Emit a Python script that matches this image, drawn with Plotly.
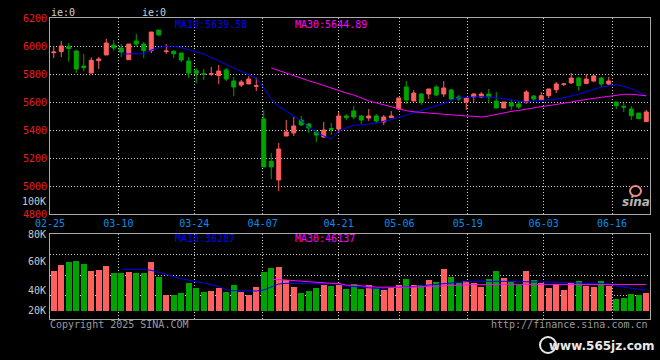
import plotly.graph_objects as go

# ---------------- data ----------------
dates = ["02-25", "02-26", "02-27", "02-28",
         "03-03", "03-04", "03-05", "03-06", "03-07", "03-10", "03-11", "03-12", "03-13", "03-14",
         "03-17", "03-18", "03-19", "03-20", "03-21", "03-24", "03-25", "03-26", "03-27", "03-28", "03-31",
         "04-01", "04-02", "04-03", "04-07", "04-08", "04-09", "04-10", "04-11", "04-14", "04-15", "04-16",
         "04-17", "04-18", "04-21", "04-22", "04-23", "04-24", "04-25", "04-28", "04-29", "04-30",
         "05-06", "05-07", "05-08", "05-09", "05-12", "05-13", "05-14", "05-15", "05-16", "05-19", "05-20",
         "05-21", "05-22", "05-23", "05-26", "05-27", "05-28", "05-29", "05-30",
         "06-03", "06-04", "06-05", "06-06", "06-09", "06-10", "06-11", "06-12", "06-13", "06-16", "06-17",
         "06-18", "06-19", "06-20", "06-23"]

opens = [5952, 5960, 5995, 5964, 5857, 5807, 5895, 5936, 6007, 5986,
         5902, 6036, 6014, 5967, 6114, 5960, 5962, 5950, 5893, 5824,
         5802, 5798, 5790, 5829, 5750, 5721, 5729, 5712, 5479, 5176,
         5043, 5357, 5379, 5471, 5443, 5386, 5350, 5410, 5407, 5500,
         5536, 5500, 5486, 5500, 5457, 5488, 5550, 5707, 5607, 5657,
         5657, 5707, 5657, 5686, 5636, 5600, 5636, 5636, 5657, 5607,
         5557, 5593, 5586, 5600, 5643, 5617, 5645, 5688, 5726, 5736,
         5771, 5733, 5750, 5771, 5729, 5600, 5569, 5550, 5521, 5460]
highs = [6000, 6036, 6021, 5971, 5943, 5919, 5921, 6050, 6043, 6014,
         6014, 6086, 6029, 6100, 6114, 6014, 5971, 5950, 5921, 5843,
         5836, 5850, 5864, 5843, 5779, 5757, 5786, 5774, 5543, 5236,
         5307, 5471, 5493, 5500, 5450, 5400, 5457, 5450, 5529, 5514,
         5571, 5505, 5550, 5514, 5507, 5536, 5629, 5750, 5686, 5664,
         5693, 5721, 5750, 5693, 5650, 5629, 5664, 5671, 5693, 5671,
         5600, 5614, 5607, 5686, 5650, 5671, 5693, 5743, 5736, 5807,
         5779, 5800, 5793, 5779, 5779, 5600, 5593, 5571, 5521, 5543]
lows = [5914, 5921, 5888, 5807, 5819, 5807, 5836, 5936, 5967, 5921,
        5902, 5995, 5914, 5950, 6071, 5943, 5914, 5886, 5771, 5736,
        5757, 5786, 5729, 5750, 5643, 5707, 5729, 5678, 5136, 5050,
        4964, 5357, 5357, 5429, 5379, 5314, 5343, 5364, 5379, 5471,
        5479, 5443, 5464, 5450, 5436, 5486, 5543, 5586, 5607, 5579,
        5621, 5643, 5636, 5614, 5607, 5543, 5600, 5629, 5590, 5557,
        5557, 5543, 5550, 5586, 5607, 5617, 5629, 5664, 5714, 5729,
        5681, 5729, 5743, 5707, 5721, 5550, 5529, 5471, 5481, 5460]
closes = [5957, 6000, 5981, 5836, 5845, 5898, 5907, 6021, 5986, 5957,
          6014, 6014, 5967, 6100, 6079, 5964, 5945, 5900, 5807, 5805,
          5798, 5802, 5821, 5764, 5707, 5743, 5764, 5716, 5136, 5136,
          5264, 5386, 5429, 5436, 5414, 5364, 5400, 5405, 5500, 5488,
          5493, 5471, 5500, 5464, 5493, 5500, 5629, 5614, 5664, 5600,
          5693, 5650, 5700, 5621, 5621, 5629, 5657, 5657, 5636, 5557,
          5600, 5571, 5564, 5671, 5621, 5645, 5693, 5729, 5729, 5771,
          5717, 5764, 5786, 5729, 5750, 5574, 5564, 5502, 5481, 5529]

# price moving averages (MA10 from day 10, MA30 from day 30)
ma10 = [5943, 5943, 5943, 5945, 5971, 5990, 5998, 5998, 5988, 5972,
        5960, 5943, 5917, 5895, 5867, 5843, 5819, 5792, 5769, 5700,
        5620, 5569, 5535, 5498, 5465, 5420, 5385, 5357, 5336, 5390,
        5415, 5433, 5436, 5443, 5450, 5460, 5475, 5490, 5507, 5525,
        5538, 5555, 5572, 5590, 5612, 5630, 5633, 5636, 5638, 5636,
        5630, 5624, 5617, 5606, 5600, 5607, 5613, 5615, 5619, 5629,
        5643, 5657, 5671, 5690, 5707, 5717, 5724, 5712, 5695, 5671, 5639.58]
ma30 = [5843, 5824, 5805, 5785, 5766, 5752, 5736, 5717, 5700, 5681,
        5664, 5650, 5630, 5608, 5594, 5580, 5565, 5550, 5538, 5530,
        5525, 5520, 5515, 5512, 5508, 5505, 5500, 5498, 5493, 5500,
        5512, 5524, 5533, 5540, 5550, 5560, 5567, 5574, 5581, 5590,
        5600, 5610, 5619, 5627, 5634, 5640, 5648, 5655, 5655, 5650, 5644.89]

# volume in thousands
volume_k = [69.6, 80.6, 85.2, 87.0, 82.3, 69.6, 71.3, 78.3, 66.7, 66.7,
            68.4, 66.7, 66.7, 85.2, 59.1, 27.8, 27.8, 31.9, 49.3, 40.0,
            33.0, 34.8, 40.6, 33.0, 45.2, 33.0, 27.8, 41.7, 67.8, 74.8,
            76.5, 54.5, 41.7, 31.9, 34.8, 40.6, 45.2, 43.5, 45.0, 37.7,
            47.0, 37.7, 44.6, 39.4, 36.5, 39.4, 44.6, 55.7, 44.6, 44.6,
            53.9, 49.9, 73.0, 59.1, 49.3, 52.2, 48.1, 42.3, 55.7, 69.6,
            57.4, 52.2, 45.2, 69.6, 53.9, 49.3, 40.6, 46.4, 36.5, 48.1,
            52.5, 43.5, 42.3, 52.5, 43.5, 21.4, 23.2, 30.1, 27.8, 31.9]
vol_ma10 = [72.5, 72.5, 72.5, 72.5, 70.7, 66.7, 63.2, 59.7, 56.2, 53.9,
            51.6, 49.3, 45.8, 42.3, 37.1, 35.4, 34.8, 34.8, 34.8, 36.5,
            41.2, 47.0, 48.1, 48.1, 48.1, 47.5, 47.5, 47.0, 47.0, 47.0,
            43.5, 42.3, 42.3, 41.2, 39.4, 39.4, 41.2, 41.2, 41.2, 42.3,
            44.0, 45.2, 47.0, 48.1, 49.3, 49.9, 51.0, 51.6, 51.6, 52.2,
            52.8, 52.8, 51.6, 51.0, 51.0, 51.0, 51.0, 49.9, 49.9, 49.9,
            49.3, 48.1, 48.1, 48.1, 48.1, 47.0, 43.5, 41.2, 39.4, 37.7, 36.287]
vol_ma30 = [55.1, 55.1, 53.9, 52.8, 51.6, 50.4, 49.9, 49.3, 48.1, 48.1,
            45.0, 44.6, 44.0, 43.0, 41.5, 41.0, 40.6, 41.2, 41.2, 41.7,
            43.0, 43.5, 44.0, 45.0, 45.2, 45.5, 45.8, 45.8, 45.8, 46.4,
            46.4, 46.4, 46.4, 46.4, 46.4, 46.4, 46.4, 46.4, 46.4, 46.4,
            46.4, 46.7, 46.7, 46.7, 46.7, 46.7, 46.7, 46.4, 46.4, 46.1, 46.137]

tick_dates = ["02-25", "03-10", "03-24", "04-07", "04-21", "05-06", "05-19", "06-03", "06-16"]
price_ticks = [6200, 6000, 5800, 5600, 5400, 5200, 5000, 4800]
vol_labels = ["100K", "80K", "60K", "40K", "20K"]

# ---------------- styling ----------------
RED = "#ff5f5f"
GREEN = "#00a400"
BLUE = "#0000ff"
MAGENTA = "#ff00ff"
FRAME = "#a8a8a8"
GRID = "#cfcfcf"
MONO = "DejaVu Sans Mono"

n = len(dates)
idx = list(range(n))
ma10_x = idx[n - len(ma10):]
ma30_x = idx[n - len(ma30):]
# Sina spaces the date grid over n-1 slots while candles use n slots
tick_pos = [dates.index(d) * n / (n - 1) - 0.5 for d in tick_dates]
bar_colors = [RED if c >= o else GREEN for o, c in zip(opens, closes)]

W, H = 660, 360
L, R, T, B = 50, 10, 18, 41
PH = H - T - B  # 301


def py(ypx):
    return (H - B - ypx) / PH


def px(xpx):
    return (xpx - L) / (W - L - R)


fig = go.Figure()

fig.add_trace(go.Candlestick(
    x=idx, open=opens, high=highs, low=lows, close=closes,
    increasing=dict(line=dict(color=RED, width=1), fillcolor=RED),
    decreasing=dict(line=dict(color=GREEN, width=1), fillcolor=GREEN),
    whiskerwidth=0, xaxis="x", yaxis="y", showlegend=False, hoverinfo="skip"))
fig.add_trace(go.Scatter(x=ma10_x, y=ma10, mode="lines", line=dict(color=BLUE, width=1),
                         xaxis="x", yaxis="y", showlegend=False, hoverinfo="skip"))
fig.add_trace(go.Scatter(x=ma30_x, y=ma30, mode="lines", line=dict(color=MAGENTA, width=1),
                         xaxis="x", yaxis="y", showlegend=False, hoverinfo="skip"))

fig.add_trace(go.Bar(x=idx, y=volume_k, marker=dict(color=bar_colors, line=dict(width=0)),
                     width=0.76, xaxis="x2", yaxis="y2", showlegend=False, hoverinfo="skip"))
fig.add_trace(go.Scatter(x=ma10_x, y=vol_ma10, mode="lines", line=dict(color=BLUE, width=1),
                         xaxis="x2", yaxis="y2", showlegend=False, hoverinfo="skip"))
fig.add_trace(go.Scatter(x=ma30_x, y=vol_ma30, mode="lines", line=dict(color=MAGENTA, width=1),
                         xaxis="x2", yaxis="y2", showlegend=False, hoverinfo="skip"))

main_bottom = py(214)
vol_top = py(234)

axis_common = dict(showline=True, linecolor=FRAME, linewidth=1, mirror=True,
                   zeroline=False, griddash="1px,2px", gridcolor=GRID, gridwidth=1)

fig.update_layout(
    width=W, height=H,
    margin=dict(l=L, r=R, t=T, b=B, pad=0),
    paper_bgcolor="#000000", plot_bgcolor="#000000",
    boxgap=0.24,
    bargap=0,
    xaxis=dict(domain=[0, 1], anchor="y", range=[-0.5, n - 0.5],
               tickmode="array", tickvals=tick_pos, ticktext=tick_dates,
               tickfont=dict(family=MONO, size=10, color="#0a8cf0"),
               ticks="", showgrid=True, rangeslider=dict(visible=False), **axis_common),
    yaxis=dict(domain=[main_bottom, 1], anchor="x", range=[4800, 6200],
               tickmode="array", tickvals=price_ticks, ticktext=[str(v) for v in price_ticks],
               tickfont=dict(family=MONO, size=10, color="#ee1c1c"),
               ticks="", showgrid=True, **axis_common),
    xaxis2=dict(domain=[0, 1], anchor="y2", range=[-0.5, n - 0.5], matches="x",
                tickmode="array", tickvals=tick_pos, showticklabels=False,
                ticks="", showgrid=True, **axis_common),
    yaxis2=dict(domain=[0, vol_top], anchor="x2", range=[-13.9, 133.9],
                tickmode="array", tickvals=[27.8, 62.6, 97.4], showticklabels=False,
                ticks="", showgrid=True, **axis_common),
)

ann = []


def add_text(text, x, y, color, size=10, xanchor="left", family=MONO, **kw):
    ann.append(dict(text=text, x=px(x), y=py(y), xref="paper", yref="paper",
                    xanchor=xanchor, yanchor="middle", showarrow=False, borderpad=0,
                    font=dict(family=family, size=size, color=color), **kw))


add_text("MA10:" + f"{ma10[-1]:.2f}", 174, 24, BLUE, 10)
add_text("MA30:" + f"{ma30[-1]:.2f}", 294, 24, MAGENTA, 10)
add_text("MA10:" + f"{round(vol_ma10[-1] * 1000)}", 174, 238, BLUE, 10)
add_text("MA30:" + f"{round(vol_ma30[-1] * 1000)}", 294, 238, MAGENTA, 10)
for lab, ypix in zip(vol_labels, [201, 234, 261, 290, 310]):
    add_text(lab, 47, ypix, "#c8c8c8", 10, xanchor="right")
add_text("ie:0", 50, 12, "#d0d0d0", 10)
add_text("ie:0", 141, 12, "#d0d0d0", 10)
add_text("Copyright 2025 SINA.COM", 49, 324, "#9a9a9a", 10)
add_text("http://finance.sina.com.cn", 649, 324, "#9a9a9a", 10, xanchor="right")
add_text("<b><i>sina</i></b>", 636, 202, "#b4b4b4", 12, xanchor="center", family="DejaVu Sans")
add_text("<b>www.565jz.com</b>", 656, 346, "#e8e8e8", 12, xanchor="right", family="DejaVu Sans")
fig.update_layout(annotations=ann)

fig.update_layout(shapes=[
    dict(type="circle", xref="paper", yref="paper",
         x0=px(630), x1=px(641), y0=py(196), y1=py(186),
         line=dict(color="#f08a8a", width=2)),
    dict(type="circle", xref="paper", yref="paper",
         x0=px(540), x1=px(556), y0=py(353), y1=py(337),
         line=dict(color="#e8e8e8", width=2)),
])

fig.write_html("out.html", config={"displayModeBar": False},
               post_script="document.body.style.margin='0';document.body.style.background='#000';")
